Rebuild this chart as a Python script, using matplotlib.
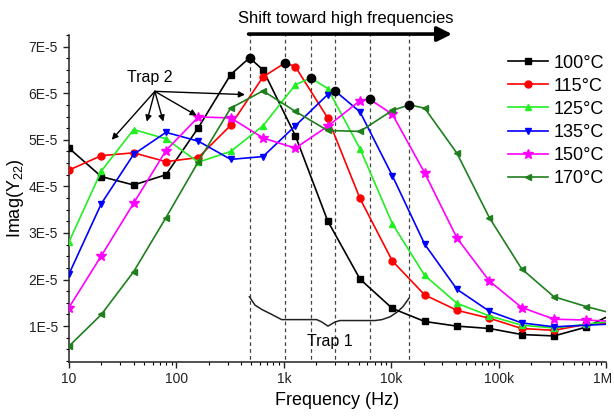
import numpy as np
import matplotlib
matplotlib.use("Agg")
import matplotlib.pyplot as plt
import matplotlib.transforms as mtransforms
from matplotlib.ticker import MultipleLocator, FixedLocator, LogLocator, NullFormatter

plt.rcParams['font.family'] = ['Liberation Sans', 'DejaVu Sans']
plt.rcParams['mathtext.fontset'] = 'custom'
plt.rcParams['mathtext.rm'] = 'Liberation Sans'

# Frequencies of the plotted markers (Hz)
freqs = [10, 20, 40, 80, 160, 320, 640, 1280, 2560, 5120, 10240,
         20480, 40960, 81920, 163840, 327680, 655360]

# Imag(Y22) in units of 1E-5
imag_100 = [4.82, 4.21, 4.03, 4.25, 5.26, 6.40, 6.50, 5.09, 3.26, 2.01, 1.38,
            1.10, 1.00, 0.95, 0.82, 0.79, 0.98]
imag_115 = [4.35, 4.66, 4.72, 4.53, 4.62, 5.31, 6.35, 6.57, 5.47, 3.74, 2.40,
            1.67, 1.34, 1.17, 0.95, 0.91, 1.04]
imag_125 = [2.81, 4.33, 5.22, 5.02, 4.52, 4.75, 5.30, 6.18, 6.10, 4.81, 3.20,
            2.09, 1.49, 1.22, 1.02, 0.96, 1.04]
imag_135 = [2.12, 3.63, 4.69, 5.16, 4.97, 4.58, 4.64, 5.30, 5.97, 5.60, 4.23,
            2.76, 1.79, 1.32, 1.07, 0.985, 1.02]
imag_150 = [1.40, 2.51, 3.64, 4.77, 5.49, 5.47, 5.04, 4.82, 5.29, 5.84, 5.55,
            4.29, 2.89, 1.97, 1.40, 1.15, 1.13]
imag_170 = [0.57, 1.25, 2.17, 3.33, 4.53, 5.68, 6.05, 5.61, 5.20, 5.18, 5.63,
            5.68, 4.71, 3.33, 2.23, 1.63, 1.42]

# peak positions (black dots + dashed lines) and value at 1 MHz
peak_freqs = [480, 1026, 1778, 3000, 6300, 14750]
peak_vals = [6.76, 6.65, 6.33, 6.05, 5.87, 5.75]
end_vals = [1.19, 1.05, 1.09, 1.04, 1.11, 1.31]

labels = ['100°C', '115°C', '125°C', '135°C', '150°C', '170°C']
series = [imag_100, imag_115, imag_125, imag_135, imag_150, imag_170]
colors = ['black', '#ff0000', '#22ee22', '#0000ff', '#ff00ff', '#1f7f1f']
markers = ['s', 'o', '^', 'v', '*', '<']

# Trap 1 brace outline (Hz, 1E-5)
brace_f = [478, 540, 627, 744, 955, 2023, 2254, 2578, 2998, 3337, 7063,
           8206, 9747, 11330, 12880, 14660]
brace_v = [1.63, 1.45, 1.355, 1.27, 1.14, 1.14, 1.09, 1.00, 1.09, 1.12, 1.12,
           1.14, 1.20, 1.30, 1.42, 1.60]

# Trap 2 arrow targets (Hz, 1E-5)
trap2_f = [25, 53, 75.5, 154.5, 435]
trap2_v = [5.00, 5.39, 5.39, 5.52, 5.97]

fig = plt.figure(figsize=(6.14, 4.16), dpi=100)
ax = fig.add_axes([0.1124, 0.1298, 0.8746, 0.7861])

ax.vlines(peak_freqs, 0, 7.25e-5, colors='#444444', linestyles=(0, (3, 2.5)),
          linewidth=0.9, zorder=1)

for vals, pf, pv, ev, c, m, lab in zip(series, peak_freqs, peak_vals, end_vals,
                                       colors, markers, labels):
    pts = sorted(zip(freqs + [pf, 1e6], vals + [pv, ev]))
    x = [p[0] for p in pts]
    y = np.array([p[1] for p in pts]) * 1e-5
    mark_idx = [i for i, xv in enumerate(x) if xv in freqs]
    ms = 7 if m == '*' else 5
    ax.plot(x, y, color=c, lw=1.2, marker=m, markersize=ms, markevery=mark_idx,
            label=lab, zorder=3)

ax.plot(peak_freqs, np.array(peak_vals) * 1e-5, 'o', color='black',
        markersize=6, zorder=5)

# Trap 1 brace
ax.plot(brace_f, np.array(brace_v) * 1e-5, color='#222222', lw=1.1, zorder=2)
ax.text(2690, 0.66e-5, 'Trap 1', ha='center', va='center', fontsize=11.5)

# Trap 2 arrows
ax.text(56.7, 6.33e-5, 'Trap 2', ha='center', va='center', fontsize=11.5)
for tf, tv in zip(trap2_f, trap2_v):
    ax.annotate('', xy=(tf, tv * 1e-5), xytext=(63, 6.04e-5),
                arrowprops=dict(arrowstyle='-|>', color='black', lw=1.0,
                                mutation_scale=9, shrinkA=0, shrinkB=0),
                zorder=6)

# shift arrow at the top
ax.annotate('', xy=(36800, 7.27e-5), xytext=(470, 7.27e-5),
            arrowprops=dict(arrowstyle='-|>', color='black', lw=2.6,
                            mutation_scale=22, shrinkA=0, shrinkB=0),
            annotation_clip=False)
ax.text(3793, 7.6e-5, 'Shift toward high frequencies', ha='center',
        va='center', fontsize=12, clip_on=False)

ax.set_xscale('log')
ax.set_xlim(10, 1e6)
ax.set_ylim(0.23e-5, 7.25e-5)

ax.set_xticks([10, 100, 1e3, 1e4, 1e5, 1e6])
ax.set_xticklabels(['10', '100', '1k', '10k', '100k', '1M'])
ax.xaxis.set_minor_locator(LogLocator(base=10, subs=np.arange(2, 10)))
ax.xaxis.set_minor_formatter(NullFormatter())

yt = [1, 2, 3, 4, 5, 6, 7]
ax.yaxis.set_major_locator(FixedLocator([v * 1e-5 for v in yt]))
ax.set_yticklabels(['%dE-5' % v for v in yt])
ax.yaxis.set_minor_locator(MultipleLocator(0.25e-5))

ax.tick_params(axis='both', which='major', direction='out', length=4.5,
               width=1.0, labelsize=10, colors='#222222')
ax.tick_params(axis='both', which='minor', direction='out', length=2.5,
               width=0.8)
ax.tick_params(axis='x', pad=3)

# nudge the last x label so it stays inside the figure
last = ax.get_xticklabels()[-1]
last.set_transform(last.get_transform() +
                   mtransforms.ScaledTranslation(-3 / 100, 0, fig.dpi_scale_trans))

for side in ['top', 'right']:
    ax.spines[side].set_visible(False)
for side in ['left', 'bottom']:
    ax.spines[side].set_linewidth(1.1)
    ax.spines[side].set_color('#222222')

ax.set_xlabel('Frequency (Hz)', fontsize=13, labelpad=4)
ax.set_ylabel('Imag(Y$_{\\mathregular{22}}$)', fontsize=13, labelpad=2)

fig.legend(loc='upper left', bbox_to_anchor=(0.801, 0.908),
           bbox_transform=fig.transFigure, frameon=False, fontsize=13,
           handlelength=2.2, handletextpad=0.3, labelspacing=0.34,
           numpoints=1, borderpad=0.4)

fig.savefig('out.png', dpi=100)
